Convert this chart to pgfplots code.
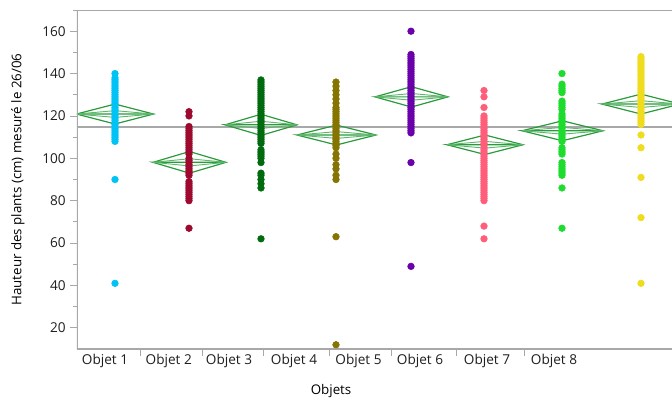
\documentclass[border=0pt]{standalone}
\usepackage{pgfplots}
\pgfplotsset{compat=1.18}
\usepackage{fontspec}
\setmainfont{Open Sans}
\definecolor{c1}{HTML}{00C3F5}
\definecolor{c2}{HTML}{9E0A2E}
\definecolor{c3}{HTML}{006B0E}
\definecolor{c4}{HTML}{857400}
\definecolor{c5}{HTML}{6A00AA}
\definecolor{c6}{HTML}{FF5E7A}
\definecolor{c7}{HTML}{1EDC2E}
\definecolor{c8}{HTML}{F0DC1E}
\definecolor{dgreen}{HTML}{2A9A3C}
\definecolor{lgreen}{HTML}{5DB86B}
\definecolor{axgray}{HTML}{A8A8A8}
\definecolor{txt}{HTML}{1E1E1E}
\begin{document}
\begin{tikzpicture}
\useasboundingbox (-57.75pt,-38.25pt) rectangle (446.25pt,261.75pt);
\begin{axis}[
  at={(0,0)}, anchor=south west,
  scale only axis, width=446.25pt, height=254.25pt,
  xmin=77, xmax=672, ymin=10, ymax=170,
  axis line style={draw=none},
  tick align=outside,
  xtick pos=bottom, ytick pos=left,
  major tick length=5pt, minor tick length=3pt,
  tick style={color=axgray, line width=0.6pt},
  ytick={20,40,...,160}, minor ytick={30,50,...,170},
  xtick={140,202,263,329,391,456,524},
  xticklabels={},
  extra x ticks={105,168.8,229,294,358.5,420,487,554},
  extra x tick labels={Objet 1,Objet 2,Objet 3,Objet 4,Objet 5,Objet 6,Objet 7,Objet 8},
  extra x tick style={major tick length=0pt},
  /pgf/number format/assume math mode=true,
  tick label style={font=\fontsize{10.2}{12}\selectfont, text=txt},
  label style={font=\fontsize{10.2}{12}\selectfont, text=txt},
  xlabel={Objets},
  ylabel={Hauteur des plants (cm) mesuré le 26/06},
  every axis y label/.style={at={(axis description cs:-0.0992,0.5)}, rotate=90, anchor=center},
  every axis x label/.style={at={(axis description cs:0.427,-0.1245)}, anchor=center},
  clip=true,
]
% grand mean
\addplot[axgray, line width=1.2pt] coordinates {(77,114.9) (672,114.9)};
% diamonds
\addplot[dgreen, line width=0.9pt] coordinates {(76.5,120.9) (115,125.6) (153.5,120.9) (115,116.2) (76.5,120.9) (153.5,120.9)};
\addplot[lgreen, line width=0.7pt] coordinates {(76.5,120.9) (115,122.5) (153.5,120.9) (115,119.3) (76.5,120.9)};
\addplot[dgreen, line width=0.9pt] coordinates {(153,98.1) (189.5,103.2) (226,98.1) (189.5,93.0) (153,98.1) (226,98.1)};
\addplot[lgreen, line width=0.7pt] coordinates {(153,98.1) (189.5,99.8) (226,98.1) (189.5,96.4) (153,98.1)};
\addplot[dgreen, line width=0.9pt] coordinates {(225,115.8) (261,120.8) (297,115.8) (261,110.8) (225,115.8) (297,115.8)};
\addplot[lgreen, line width=0.7pt] coordinates {(225,115.8) (261,117.5) (297,115.8) (261,114.1) (225,115.8)};
\addplot[dgreen, line width=0.9pt] coordinates {(297,111.0) (336.5,115.7) (376,111.0) (336.5,106.3) (297,111.0) (376,111.0)};
\addplot[lgreen, line width=0.7pt] coordinates {(297,111.0) (336.5,112.6) (376,111.0) (336.5,109.4) (297,111.0)};
\addplot[dgreen, line width=0.9pt] coordinates {(375,129.0) (411.5,133.8) (448,129.0) (411.5,124.2) (375,129.0) (448,129.0)};
\addplot[lgreen, line width=0.7pt] coordinates {(375,129.0) (411.5,130.6) (448,129.0) (411.5,127.4) (375,129.0)};
\addplot[dgreen, line width=0.9pt] coordinates {(447,106.4) (485,111.0) (523,106.4) (485,101.8) (447,106.4) (523,106.4)};
\addplot[lgreen, line width=0.7pt] coordinates {(447,106.4) (485,108.0) (523,106.4) (485,104.8) (447,106.4)};
\addplot[dgreen, line width=0.9pt] coordinates {(522,113.0) (562.5,117.7) (603,113.0) (562.5,108.3) (522,113.0) (603,113.0)};
\addplot[lgreen, line width=0.7pt] coordinates {(522,113.0) (562.5,114.6) (603,113.0) (562.5,111.4) (522,113.0)};
\addplot[dgreen, line width=0.9pt] coordinates {(602,125.6) (641,130.3) (680,125.6) (641,120.9) (602,125.6) (680,125.6)};
\addplot[lgreen, line width=0.7pt] coordinates {(602,125.6) (641,127.2) (680,125.6) (641,124.0) (602,125.6)};
% points
\addplot[only marks, mark=*, mark size=2.5pt, color=c1] coordinates {
(115,41)(115,90)(115,108)(115,109)(115,110)(115,111)(115,112)(115,113)(115,114)(115,115)(115,116)(115,117)(115,118)(115,119)(115,120)(115,121)(115,122)(115,123)(115,124)(115,125)(115,126)(115,127)(115,128)(115,129)(115,130)(115,131)(115,132)(115,133)(115,134)(115,135)(115,136)(115,137)(115,138)(115,140)};
\addplot[only marks, mark=*, mark size=2.5pt, color=c2] coordinates {
(189,67)(189,80)(189,81)(189,82)(189,83)(189,84)(189,85)(189,86)(189,87)(189,88)(189,89)(189,92)(189,93)(189,94)(189,95)(189,96)(189,97)(189,98)(189,99)(189,100)(189,102)(189,103)(189,104)(189,105)(189,106)(189,107)(189,108)(189,109)(189,110)(189,111)(189,112)(189,113)(189,114)(189,115)(189,120)(189,122)};
\addplot[only marks, mark=*, mark size=2.5pt, color=c3] coordinates {
(261,62)(261,86)(261,88)(261,90)(261,92)(261,93)(261,98)(261,100)(261,101)(261,102)(261,103)(261,104)(261,107)(261,108)(261,109)(261,110)(261,111)(261,112)(261,113)(261,114)(261,115)(261,116)(261,117)(261,118)(261,119)(261,120)(261,121)(261,122)(261,123)(261,124)(261,125)(261,126)(261,127)(261,128)(261,129)(261,130)(261,131)(261,132)(261,133)(261,134)(261,135)(261,136)(261,137)};
\addplot[only marks, mark=*, mark size=2.5pt, color=c4] coordinates {
(336,12)(336,63)(336,90)(336,92)(336,95)(336,97)(336,100)(336,102)(336,105)(336,106)(336,107)(336,108)(336,109)(336,110)(336,111)(336,112)(336,113)(336,114)(336,115)(336,116)(336,117)(336,118)(336,119)(336,120)(336,121)(336,122)(336,123)(336,124)(336,126)(336,128)(336,130)(336,132)(336,134)(336,136)};
\addplot[only marks, mark=*, mark size=2.5pt, color=c5] coordinates {
(411,49)(411,98)(411,112)(411,113)(411,114)(411,115)(411,116)(411,117)(411,118)(411,119)(411,120)(411,121)(411,122)(411,123)(411,124)(411,125)(411,126)(411,127)(411,128)(411,129)(411,130)(411,131)(411,132)(411,133)(411,134)(411,135)(411,136)(411,137)(411,138)(411,139)(411,140)(411,141)(411,142)(411,143)(411,144)(411,145)(411,146)(411,147)(411,148)(411,149)(411,160)};
\addplot[only marks, mark=*, mark size=2.5pt, color=c6] coordinates {
(484,62)(484,68)(484,80)(484,81)(484,82)(484,83)(484,84)(484,85)(484,86)(484,87)(484,88)(484,89)(484,90)(484,91)(484,92)(484,93)(484,94)(484,95)(484,96)(484,97)(484,98)(484,99)(484,100)(484,101)(484,102)(484,103)(484,104)(484,105)(484,106)(484,107)(484,108)(484,109)(484,110)(484,111)(484,112)(484,113)(484,114)(484,115)(484,116)(484,117)(484,118)(484,119)(484,120)(484,124)(484,129)(484,132)};
\addplot[only marks, mark=*, mark size=2.5pt, color=c7] coordinates {
(562,67)(562,86)(562,92)(562,93)(562,94)(562,95)(562,96)(562,97)(562,98)(562,102)(562,103)(562,104)(562,105)(562,108)(562,109)(562,110)(562,111)(562,112)(562,113)(562,114)(562,115)(562,116)(562,117)(562,118)(562,119)(562,120)(562,121)(562,123)(562,124)(562,125)(562,126)(562,127)(562,131)(562,132)(562,133)(562,134)(562,135)(562,140)};
\addplot[only marks, mark=*, mark size=2.5pt, color=c8] coordinates {
(641,41)(641,72)(641,91)(641,105)(641,111)(641,116)(641,117)(641,118)(641,119)(641,120)(641,121)(641,122)(641,123)(641,124)(641,125)(641,126)(641,127)(641,128)(641,129)(641,130)(641,131)(641,132)(641,133)(641,134)(641,135)(641,136)(641,137)(641,138)(641,139)(641,140)(641,141)(641,142)(641,143)(641,144)(641,145)(641,146)(641,147)(641,148)};
% frame
\draw[axgray, line width=0.9pt] (rel axis cs:1,1) -- (rel axis cs:0,1) -- (rel axis cs:0,0) -- (rel axis cs:1,0);
\end{axis}
\end{tikzpicture}
\end{document}
